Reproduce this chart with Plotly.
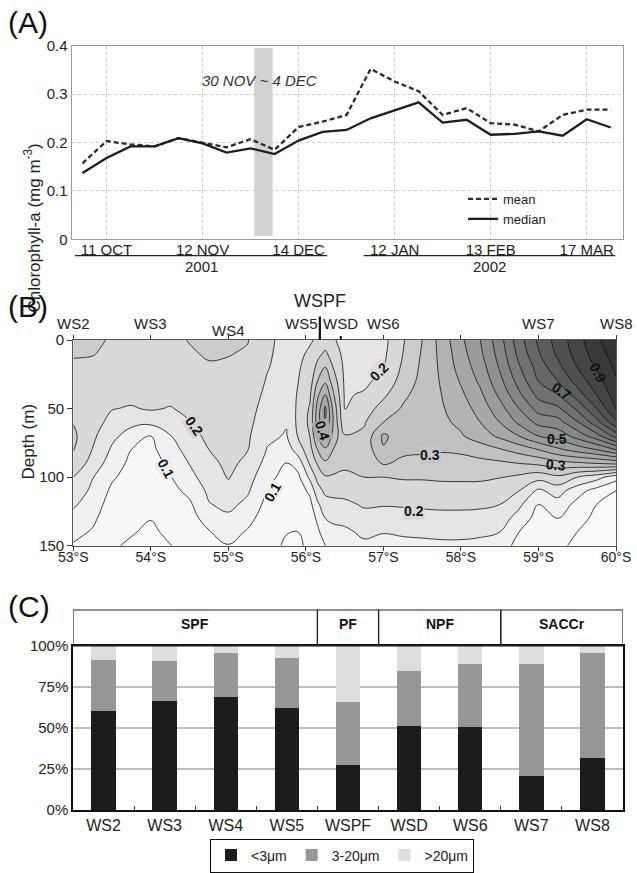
import plotly.graph_objects as go

W, H = 637, 873
FONT = "Liberation Sans"


def px_x(p):
    return p / W


def px_y(p):
    return 1 - p / H


# ---------------- Panel A data ----------------
comp_index = list(range(23))
chl_mean = [0.157, 0.203, 0.196, 0.192, 0.209, 0.199, 0.190, 0.207, 0.185, 0.232, 0.243, 0.257,
            0.352, 0.326, 0.306, 0.257, 0.271, 0.240, 0.237, 0.223, 0.257, 0.268, 0.268]
chl_median = [0.137, 0.168, 0.192, 0.192, 0.209, 0.198, 0.179, 0.188, 0.176, 0.204, 0.222, 0.226,
              0.250, 0.266, 0.283, 0.241, 0.247, 0.216, 0.218, 0.223, 0.214, 0.248, 0.231]
date_tick_index = [1, 5, 9, 13, 17, 21]
date_tick_text = ["11 OCT", "12 NOV", "14 DEC", "12 JAN", "13 FEB", "17 MAR"]
event_band = [7.15, 7.92]
event_text = "30 NOV ~ 4 DEC"
year_labels = ["2001", "2002"]
year_spans = [[-0.31, 10.19], [11.71, 22.19]]

# ---------------- Panel B data ----------------
lat_grid = [53.0, 53.25, 53.5, 53.75, 54.0, 54.25, 54.5, 54.75, 55.0, 55.25, 55.5, 55.75, 55.9,
            56.05, 56.15, 56.25, 56.35, 56.5, 56.75, 57.0, 57.25, 57.5, 57.75, 58.0, 58.25, 58.5,
            58.75, 59.0, 59.25, 59.5, 59.75, 60.0]
depth_grid = [0, 10, 20, 30, 40, 50, 60, 70, 80, 90, 100, 110, 120, 130, 140, 150]
chl_profiles = [
    [0.27, 0.255, 0.24, 0.235, 0.235, 0.24, 0.248, 0.26, 0.252, 0.235, 0.2, 0.178, 0.157, 0.135, 0.115, 0.095],
    [0.26, 0.252, 0.24, 0.235, 0.232, 0.228, 0.22, 0.21, 0.198, 0.18, 0.152, 0.14, 0.125, 0.11, 0.095, 0.085],
    [0.245, 0.24, 0.232, 0.225, 0.214, 0.202, 0.185, 0.162, 0.143, 0.125, 0.107, 0.09, 0.078, 0.068, 0.06, 0.053],
    [0.235, 0.233, 0.23, 0.225, 0.213, 0.196, 0.162, 0.13, 0.1, 0.088, 0.078, 0.07, 0.062, 0.056, 0.052, 0.046],
    [0.232, 0.23, 0.228, 0.224, 0.215, 0.205, 0.162, 0.1, 0.088, 0.08, 0.072, 0.065, 0.058, 0.051, 0.045, 0.04],
    [0.24, 0.237, 0.232, 0.226, 0.215, 0.197, 0.175, 0.148, 0.128, 0.11, 0.097, 0.085, 0.075, 0.065, 0.056, 0.049],
    [0.252, 0.245, 0.238, 0.232, 0.224, 0.212, 0.198, 0.185, 0.17, 0.152, 0.135, 0.112, 0.092, 0.08, 0.07, 0.062],
    [0.27, 0.255, 0.245, 0.238, 0.232, 0.225, 0.217, 0.21, 0.2, 0.188, 0.175, 0.16, 0.147, 0.122, 0.097, 0.085],
    [0.27, 0.252, 0.243, 0.237, 0.233, 0.23, 0.225, 0.22, 0.215, 0.21, 0.203, 0.186, 0.162, 0.14, 0.118, 0.098],
    [0.252, 0.245, 0.238, 0.232, 0.226, 0.22, 0.214, 0.207, 0.201, 0.19, 0.172, 0.156, 0.138, 0.115, 0.095, 0.085],
    [0.21, 0.207, 0.203, 0.196, 0.188, 0.178, 0.168, 0.158, 0.148, 0.132, 0.113, 0.097, 0.085, 0.075, 0.067, 0.06],
    [0.185, 0.183, 0.18, 0.175, 0.168, 0.16, 0.153, 0.147, 0.122, 0.098, 0.085, 0.075, 0.066, 0.058, 0.051, 0.046],
    [0.19, 0.193, 0.196, 0.199, 0.205, 0.21, 0.212, 0.204, 0.175, 0.12, 0.09, 0.075, 0.065, 0.056, 0.05, 0.046],
    [0.196, 0.205, 0.215, 0.225, 0.24, 0.255, 0.26, 0.25, 0.23, 0.205, 0.16, 0.11, 0.085, 0.07, 0.06, 0.055],
    [0.205, 0.235, 0.265, 0.3, 0.34, 0.37, 0.375, 0.35, 0.3, 0.255, 0.215, 0.18, 0.14, 0.11, 0.09, 0.078],
    [0.22, 0.26, 0.3, 0.34, 0.4, 0.46, 0.45, 0.41, 0.34, 0.29, 0.245, 0.21, 0.18, 0.15, 0.125, 0.1],
    [0.205, 0.225, 0.25, 0.28, 0.31, 0.34, 0.35, 0.335, 0.3, 0.27, 0.245, 0.215, 0.185, 0.16, 0.135, 0.115],
    [0.185, 0.187, 0.19, 0.192, 0.195, 0.198, 0.21, 0.255, 0.27, 0.26, 0.24, 0.215, 0.19, 0.165, 0.14, 0.12],
    [0.17, 0.172, 0.178, 0.19, 0.205, 0.225, 0.245, 0.26, 0.265, 0.26, 0.25, 0.225, 0.205, 0.185, 0.16, 0.14],
    [0.185, 0.19, 0.2, 0.215, 0.24, 0.27, 0.3, 0.36, 0.345, 0.305, 0.25, 0.225, 0.203, 0.18, 0.152, 0.135],
    [0.245, 0.25, 0.258, 0.27, 0.29, 0.305, 0.315, 0.32, 0.31, 0.29, 0.255, 0.228, 0.205, 0.18, 0.156, 0.138],
    [0.3, 0.305, 0.31, 0.315, 0.32, 0.325, 0.328, 0.33, 0.31, 0.28, 0.255, 0.23, 0.208, 0.183, 0.158, 0.14],
    [0.37, 0.365, 0.36, 0.355, 0.35, 0.345, 0.34, 0.335, 0.305, 0.28, 0.258, 0.232, 0.21, 0.185, 0.16, 0.142],
    [0.44, 0.43, 0.42, 0.405, 0.39, 0.375, 0.36, 0.345, 0.31, 0.28, 0.258, 0.233, 0.21, 0.185, 0.16, 0.142],
    [0.5, 0.49, 0.475, 0.46, 0.44, 0.42, 0.4, 0.375, 0.325, 0.285, 0.258, 0.232, 0.208, 0.183, 0.158, 0.138],
    [0.58, 0.57, 0.555, 0.535, 0.51, 0.48, 0.45, 0.41, 0.345, 0.29, 0.252, 0.225, 0.2, 0.175, 0.15, 0.13],
    [0.68, 0.665, 0.645, 0.62, 0.59, 0.55, 0.51, 0.45, 0.37, 0.3, 0.24, 0.2, 0.16, 0.13, 0.1, 0.08],
    [0.76, 0.745, 0.72, 0.7, 0.665, 0.62, 0.565, 0.5, 0.4, 0.31, 0.22, 0.14, 0.1, 0.08, 0.065, 0.055],
    [0.82, 0.81, 0.785, 0.75, 0.7, 0.64, 0.58, 0.52, 0.44, 0.33, 0.24, 0.17, 0.13, 0.1, 0.08, 0.06],
    [0.88, 0.87, 0.85, 0.82, 0.775, 0.71, 0.645, 0.57, 0.47, 0.34, 0.2, 0.12, 0.085, 0.065, 0.05, 0.04],
    [0.94, 0.925, 0.905, 0.88, 0.85, 0.8, 0.73, 0.63, 0.5, 0.35, 0.17, 0.08, 0.05, 0.04, 0.035, 0.03],
    [0.99, 0.975, 0.96, 0.945, 0.925, 0.905, 0.84, 0.72, 0.55, 0.36, 0.12, 0.05, 0.04, 0.035, 0.03, 0.03],
]
lat_ticks = [53, 54, 55, 56, 57, 58, 59, 60]
lat_tick_text = ["53°S", "54°S", "55°S", "56°S", "57°S", "58°S", "59°S", "60°S"]
depth_ticks = [0, 50, 100, 150]
station_names = ["WS2", "WS3", "WS4", "WS5", "WSD", "WS6", "WS7", "WS8"]
station_lats = [53.0, 54.0, 55.0, 56.0, 56.45, 57.0, 59.0, 60.0]
front_name = "WSPF"
front_lat = 56.18
contour_labels = [
    ("0.2", 54.56, 63, 55, "#d6d6d6"),
    ("0.1", 54.2, 94, 62, "#efefef"),
    ("0.1", 55.57, 111, -60, "#efefef"),
    ("0.4", 56.22, 66, 72, "#ababab"),
    ("0.2", 56.94, 23, -45, "#dcdcdc"),
    ("0.3", 57.6, 84, 0, "#c6c6c6"),
    ("0.2", 57.4, 125, 0, "#d8d8d8"),
    ("0.9", 59.77, 24, 62, "rgba(0,0,0,0)"),
    ("0.7", 59.3, 37, 35, "rgba(0,0,0,0)"),
    ("0.5", 59.24, 72, 0, "rgba(0,0,0,0)"),
    ("0.3", 59.23, 91, 5, "rgba(0,0,0,0)"),
]

# ---------------- Panel C data ----------------
stations_c = ["WS2", "WS3", "WS4", "WS5", "WSPF", "WSD", "WS6", "WS7", "WS8"]
pico = [60.6, 66.5, 69.1, 62.0, 27.4, 51.2, 50.8, 20.7, 31.9]
nano = [30.9, 24.4, 26.8, 30.7, 38.3, 33.4, 38.2, 68.3, 64.0]
micro = [8.5, 9.1, 4.1, 7.3, 34.3, 15.4, 11.0, 11.0, 4.1]
size_names = ["<3μm", "3-20μm", ">20μm"]
size_colors = ["#1c1c1c", "#979797", "#dedede"]
regions = [("SPF", 0, 3), ("PF", 4, 4), ("NPF", 5, 6), ("SACCr", 7, 8)]
pct_ticks = [0, 25, 50, 75, 100]

fig = go.Figure()

# ---- Panel A traces ----
fig.add_trace(go.Scatter(x=comp_index, y=chl_mean, mode="lines", name="mean",
                         line=dict(color="#2a2a2a", width=2.3, dash="5px,3px"),
                         xaxis="x", yaxis="y", legend="legend", hoverinfo="skip"))
fig.add_trace(go.Scatter(x=comp_index, y=chl_median, mode="lines", name="median",
                         line=dict(color="#1e1e1e", width=2.3),
                         xaxis="x", yaxis="y", legend="legend", hoverinfo="skip"))

# ---- Panel B contour ----
z = [list(row) for row in zip(*chl_profiles)]
gray_scale = [
    [0.0, "#fafafa"], [0.05, "#f6f6f6"], [0.1, "#eeeeee"], [0.15, "#e3e3e3"],
    [0.2, "#d8d8d8"], [0.25, "#cccccc"], [0.3, "#c2c2c2"], [0.35, "#b6b6b6"],
    [0.4, "#aaaaaa"], [0.5, "#959595"], [0.6, "#838383"], [0.7, "#707070"],
    [0.8, "#5c5c5c"], [0.9, "#474747"], [1.0, "#333333"],
]
fig.add_trace(go.Contour(
    x=lat_grid, y=depth_grid, z=z, xaxis="x2", yaxis="y2",
    zmin=0, zmax=1, colorscale=gray_scale, showscale=False,
    contours=dict(start=0.05, end=1.0, size=0.05, coloring="fill", showlabels=False),
    line=dict(color="#111111", width=0.8, smoothing=1.2),
    hoverinfo="skip", showlegend=False))

# ---- Panel C bars ----
for name, vals, col in zip(size_names, [pico, nano, micro], size_colors):
    fig.add_trace(go.Bar(x=stations_c, y=vals, name=name, marker=dict(color=col, line=dict(width=0)),
                         width=0.4, xaxis="x3", yaxis="y3", legend="legend2", hoverinfo="skip"))

tickfont = dict(family=FONT, size=15, color="#222")

fig.update_layout(
    width=W, height=H, autosize=False,
    margin=dict(l=0, r=0, t=0, b=0, pad=0, autoexpand=False),
    paper_bgcolor="white", plot_bgcolor="white", barmode="stack",
    font=dict(family=FONT, color="#222"),
    # Panel A
    xaxis=dict(domain=[px_x(71.7), px_x(622.7)], anchor="y", range=[-0.45, 22.5], automargin=False,
               tickvals=date_tick_index, ticktext=date_tick_text, ticks="", tickfont=tickfont,
               ticklabelstandoff=-3,
               showgrid=True, gridcolor="#c8c8c8", griddash="dot", gridwidth=1,
               showline=True, linecolor="#9a9a9a", linewidth=1.2, mirror=True, zeroline=False),
    yaxis=dict(domain=[px_y(239.3), px_y(45.7)], anchor="x", range=[0, 0.4], automargin=False,
               tickvals=[0, 0.1, 0.2, 0.3, 0.4], ticktext=["0", "0.1", "0.2", "0.3", "0.4"],
               ticks="", tickfont=tickfont,
               showgrid=True, gridcolor="#c8c8c8", griddash="dot", gridwidth=1,
               showline=True, linecolor="#9a9a9a", linewidth=1.2, mirror=True, zeroline=False),
    # Panel B
    xaxis2=dict(domain=[px_x(73.3), px_x(616)], anchor="y2", range=[53, 60], automargin=False,
                tickvals=lat_ticks, ticktext=lat_tick_text, ticks="outside", ticklen=4,
                ticklabelstandoff=-6,
                tickcolor="#333", tickfont=dict(family=FONT, size=14, color="#222"),
                showgrid=False, showline=True, linecolor="#555", linewidth=1.2, mirror="ticks",
                zeroline=False),
    yaxis2=dict(domain=[px_y(545.7), px_y(340)], anchor="x2", range=[150, 0], automargin=False,
                tickvals=depth_ticks, ticks="outside", ticklen=5, tickcolor="#333",
                tickfont=tickfont, showgrid=False, showline=True, linecolor="#555",
                linewidth=1.2, mirror=True, zeroline=False),
    # Panel C
    xaxis3=dict(domain=[px_x(73), px_x(623)], anchor="y3", range=[-0.5, 8.5], automargin=False,
                ticks="inside", tickson="boundaries", ticklen=4, tickcolor="#333",
                tickfont=dict(family=FONT, size=16, color="#222"),
                showline=True, linecolor="#111", linewidth=1.5, mirror=True, showgrid=False),
    yaxis3=dict(domain=[px_y(810), px_y(646)], anchor="x3", range=[0, 100], automargin=False,
                tickvals=pct_ticks, ticktext=[f"{v}%" for v in pct_ticks], ticks="",
                tickfont=dict(family=FONT, size=15, color="#222"),
                showgrid=True, gridcolor="#bdbdbd", gridwidth=1.5,
                showline=True, linecolor="#111", linewidth=1.5, mirror=True, zeroline=False),
    legend=dict(x=px_x(463), y=px_y(184), xanchor="left", yanchor="top",
                bgcolor="rgba(0,0,0,0)", font=dict(family=FONT, size=13, color="#222"),
                tracegroupgap=0, itemwidth=30),
    legend2=dict(orientation="h", x=px_x(342), y=px_y(855.5), xanchor="center", yanchor="middle",
                 bgcolor="white", bordercolor="#111", borderwidth=1, traceorder="normal",
                 font=dict(family=FONT, size=14, color="#222")),
)

shapes = []
annotations = []

# Panel A decorations
shapes.append(dict(type="rect", xref="x", yref="y", x0=event_band[0], x1=event_band[1],
                   y0=0.007, y1=0.395, fillcolor="#d2d2d2", line=dict(width=0), layer="below"))
annotations.append(dict(x=sum(event_band) / 2 - 0.16, y=0.329, xref="x", yref="y", showarrow=False,
                        text=f"<i>{event_text}</i>", font=dict(family=FONT, size=15, color="#333")))
for lbl, (a, b) in zip(year_labels, year_spans):
    shapes.append(dict(type="line", xref="x", yref="paper", x0=a, x1=b,
                       y0=px_y(255.7), y1=px_y(255.7), line=dict(color="#222", width=1.3)))
    annotations.append(dict(x=(a + b) / 2, y=px_y(266), xref="x", yref="paper", showarrow=False,
                            text=lbl, font=dict(family=FONT, size=15, color="#222"),
                            xanchor="center", yanchor="middle"))
annotations.append(dict(x=px_x(20), y=px_y(142), xref="paper", yref="paper", showarrow=False,
                        text="Chlorophyll-a (mg m<sup>-3</sup>)", textangle=-90,
                        font=dict(family=FONT, size=17, color="#222")))

# Panel letters
for letter, yc in [("(A)", 22), ("(B)", 306), ("(C)", 606)]:
    annotations.append(dict(x=px_x(6), y=px_y(yc), xref="paper", yref="paper", showarrow=False,
                            text=letter, xanchor="left", yanchor="middle",
                            font=dict(family=FONT, size=30, color="#111")))

# Panel B decorations
annotations.append(dict(x=px_x(16), y=px_y(442), xref="paper", yref="paper", showarrow=False,
                        text="Depth (m)", textangle=-90, font=dict(family=FONT, size=17, color="#222")))
for name, lat in zip(station_names, station_lats):
    yy = 330 if name == "WS4" else 323
    xs = -4 if name == "WS5" else 0
    annotations.append(dict(x=lat, y=px_y(yy), xref="x2", yref="paper", showarrow=False,
                            text=name, xshift=xs, xanchor="center", yanchor="middle",
                            font=dict(family=FONT, size=15, color="#222")))
annotations.append(dict(x=front_lat, y=px_y(301), xref="x2", yref="paper", showarrow=False,
                        text=front_name, xanchor="center", yanchor="middle",
                        font=dict(family=FONT, size=18, color="#222")))
shapes.append(dict(type="line", xref="x2", yref="paper", x0=front_lat, x1=front_lat,
                   y0=px_y(340), y1=px_y(316.5), line=dict(color="#111", width=2.2)))
shapes.append(dict(type="line", xref="x2", yref="paper", x0=56.45, x1=56.45,
                   y0=px_y(340), y1=px_y(336), line=dict(color="#111", width=2)))
for txt, lat, dep, ang, bg in contour_labels:
    annotations.append(dict(x=lat, y=dep, xref="x2", yref="y2", showarrow=False, text=f"<b>{txt}</b>",
                            textangle=ang, bgcolor=bg, borderpad=0,
                            font=dict(family=FONT, size=14, color="#111")))

# Panel C header boxes
for name, i0, i1 in regions:
    shapes.append(dict(type="rect", xref="x3", yref="paper", x0=i0 - 0.5, x1=i1 + 0.5,
                       y0=px_y(646), y1=px_y(610), line=dict(color="#222", width=1.2),
                       fillcolor="rgba(0,0,0,0)"))
    annotations.append(dict(x=(i0 + i1) / 2, y=px_y(624), xref="x3", yref="paper", showarrow=False,
                            text=f"<b>{name}</b>", xanchor="center", yanchor="middle",
                            font=dict(family=FONT, size=14, color="#111")))

fig.update_layout(shapes=shapes, annotations=annotations)
fig.write_html("out.html")
